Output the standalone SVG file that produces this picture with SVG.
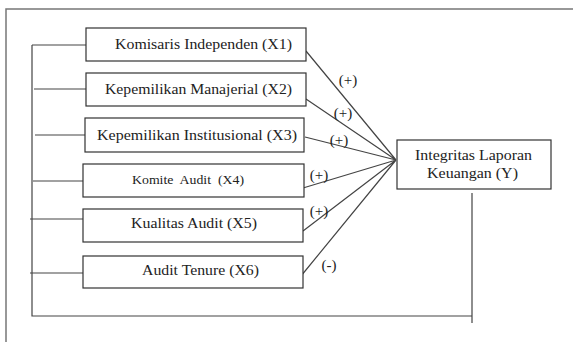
<svg xmlns="http://www.w3.org/2000/svg" width="573" height="342" viewBox="0 0 573 342">
<style>
.box{fill:#fff;stroke:#333;stroke-width:1.2}
.ln{stroke:#444;stroke-width:1.2;fill:none}
.frame{stroke:#777;stroke-width:1.5;fill:none}
text{font-family:'Liberation Serif','DejaVu Serif',serif;font-size:15.5px;fill:#222;text-anchor:middle}
.sm{font-size:13.5px;white-space:pre}
.lab{font-size:15px}
</style>
<rect width="573" height="342" fill="#fff"/>
<path class="frame" d="M6,342 V9 H573"/>
<g id="connectors">
<path class="ln" d="M32,45 V316 H472 V323 M472,316 V193"/>
<path class="ln" d="M32,45 H86 M34,89 H86 M35,135 H85 M33,181 H83 M30,219 H83 M30,273 H83"/>
<path class="ln" d="M306,51 L396,160 M306,99 L396,160 M305,137 L396,160 M303,188 L396,160 M303,231 L396,160 M301,276 L396,160"/>
<text class="lab" x="348" y="85">(+)</text>
<text class="lab" x="343" y="118">(+)</text>
<text class="lab" x="339" y="145">(+)</text>
<text class="lab" x="319" y="180">(+)</text>
<text class="lab" x="319" y="216">(+)</text>
<text class="lab" x="329" y="270">(-)</text>
</g>
<g id="x1"><rect class="box" x="86" y="28" width="220" height="33"/><text x="203.5" y="49" textLength="177" lengthAdjust="spacingAndGlyphs">Komisaris Independen (X1)</text></g>
<g id="x2"><rect class="box" x="86" y="73" width="220" height="33"/><text x="198.5" y="94" textLength="187" lengthAdjust="spacingAndGlyphs">Kepemilikan Manajerial (X2)</text></g>
<g id="x3"><rect class="box" x="85" y="118" width="219" height="34"/><text x="197" y="140" textLength="200" lengthAdjust="spacingAndGlyphs">Kepemilikan Institusional (X3)</text></g>
<g id="x4"><rect class="box" x="83" y="164" width="221" height="33"/><text class="sm" x="188" y="184" textLength="112" lengthAdjust="spacingAndGlyphs" xml:space="preserve">Komite  Audit  (X4)</text></g>
<g id="x5"><rect class="box" x="83" y="209" width="220" height="33"/><text x="194" y="228" textLength="126" lengthAdjust="spacingAndGlyphs">Kualitas Audit (X5)</text></g>
<g id="x6"><rect class="box" x="83" y="256" width="220" height="32"/><text x="200.5" y="275" textLength="117" lengthAdjust="spacingAndGlyphs">Audit Tenure (X6)</text></g>
<g id="y"><rect class="box" x="397" y="140" width="154" height="49"/><text x="473.5" y="160" textLength="117" lengthAdjust="spacingAndGlyphs">Integritas Laporan</text><text x="472.5" y="178" textLength="91" lengthAdjust="spacingAndGlyphs">Keuangan (Y)</text></g>
</svg>
